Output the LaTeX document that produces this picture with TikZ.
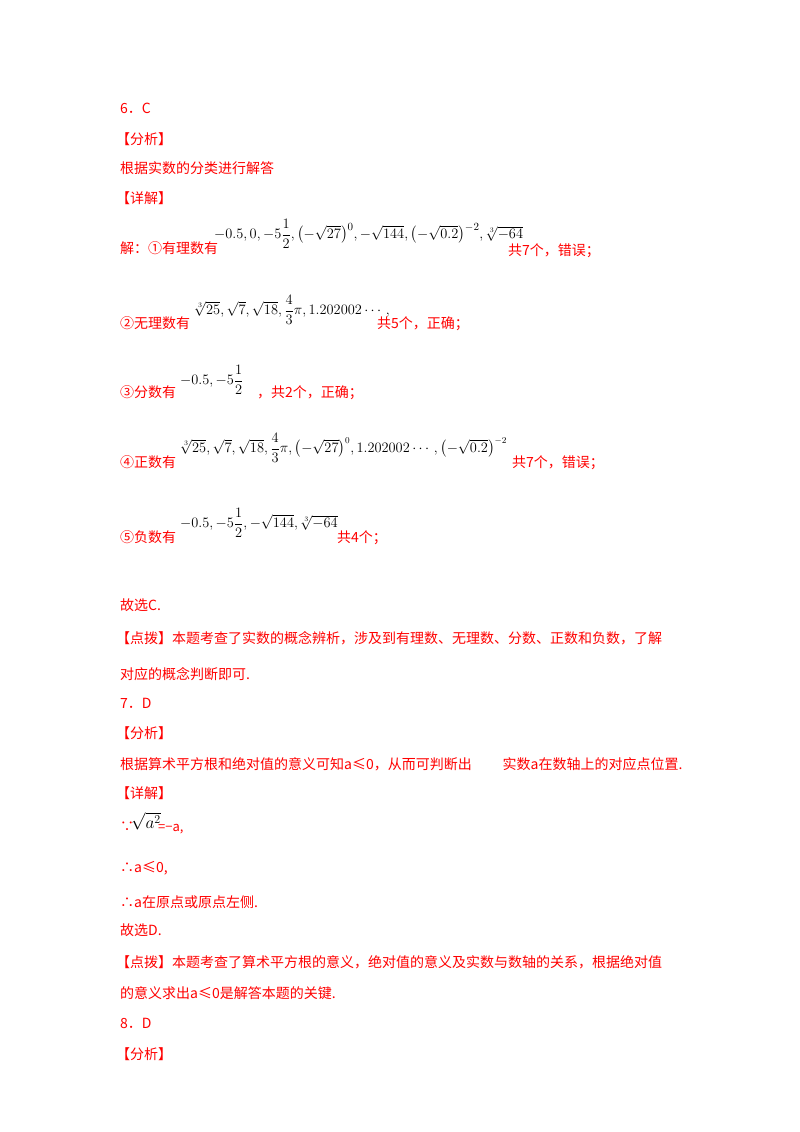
\documentclass[tikz,border=0pt]{standalone}
\usepackage{amsmath}
\usepackage{fontspec}
\setmainfont{Liberation Serif}
\newfontfamily\cjk{Noto Sans CJK SC}
\begin{document}
\begin{tikzpicture}[x=1pt,y=-1pt,
  t/.style={anchor=west,inner sep=0pt,text=red,font=\fontsize{14}{16}\selectfont\cjk},
  m/.style={anchor=west,inner sep=0pt,font=\fontsize{15}{17}\selectfont}]
\useasboundingbox (0,0) rectangle (800,1132);
\fill[white] (0,0) rectangle (800,1132);
\node[t] (a1) at (120,108) {6．C};
\node[t] (a2) at (116,139) {【分析】};
\node[t] (a3) at (120,168) {根据实数的分类进行解答};
\node[t] (a4) at (116,198) {【详解】};
\node[t] (b1) at (120,248) {解：①有理数有};
\node[m] (b1m) at (214,234) {$-0.5,0,-5\dfrac12,\bigl(-\sqrt{27}\bigr)^0,-\sqrt{144},\bigl(-\sqrt{0.2}\bigr)^{-2},\sqrt[3]{-64}$};
\node[t] (b1e) at (508,251) {共7个，错误；};
\node[t] (b2) at (120,323) {②无理数有};
\node[m] (b2m) at (194,310) {$\sqrt[3]{25},\sqrt7,\sqrt{18},\dfrac43\pi,1.202002\cdots,$};
\node[t] (b2e) at (377,324) {共5个，正确；};
\node[t] (b3) at (120,392) {③分数有};
\node[m] (b3m) at (180,380) {$-0.5,-5\dfrac12$};
\node[t] (b3e) at (257,393) {，共2个，正确；};
\node[t] (b4) at (120,462) {④正数有};
\node[m,font=\fontsize{13.5}{16}\selectfont] (b4m) at (180,448) {$\sqrt[3]{25},\sqrt7,\sqrt{18},\dfrac43\pi,\bigl(-\sqrt{27}\bigr)^0,1.202002\cdots,\bigl(-\sqrt{0.2}\bigr)^{-2}$};
\node[t] (b4e) at (512,463) {共7个，错误；};
\node[t] (b5) at (120,537) {⑤负数有};
\node[m] (b5m) at (180,523) {$-0.5,-5\dfrac12,-\sqrt{144},\sqrt[3]{-64}$};
\node[t] (b5e) at (337,538) {共4个；};
\node[t] (c1) at (120,605) {故选C.};
\node[t] (c2) at (116,638) {【点拨】本题考查了实数的概念辨析，涉及到有理数、无理数、分数、正数和负数，了解};
\node[t] (c3) at (120,674) {对应的概念判断即可.};
\node[t] (d1) at (120,703) {7．D};
\node[t] (d2) at (116,733) {【分析】};
\node[t] (d3) at (120,764) {根据算术平方根和绝对值的意义可知a≤0，从而可判断出\hspace{2.2em}实数a在数轴上的对应点位置.};
\node[t] (d4) at (116,793) {【详解】};
\node[t] (e1) at (120,827) {∵};
\node[m,font=\fontsize{17}{19}\selectfont] (e1m) at (131,821) {$\sqrt{a^2}$};
\node[t,font=\fontsize{13}{15}\selectfont\cjk] (e1e) at (158,829) {=−a,};
\node[t] (e2) at (120,868) {∴a≤0,};
\node[t] (e3) at (120,902) {∴a在原点或原点左侧.};
\node[t] (e4) at (120,930) {故选D.};
\node[t] (e5) at (116,962) {【点拨】本题考查了算术平方根的意义，绝对值的意义及实数与数轴的关系，根据绝对值};
\node[t] (e6) at (120,993) {的意义求出a≤0是解答本题的关键.};
\node[t] (f1) at (120,1023) {8．D};
\node[t] (f2) at (116,1054) {【分析】};
\end{tikzpicture}
\end{document}
